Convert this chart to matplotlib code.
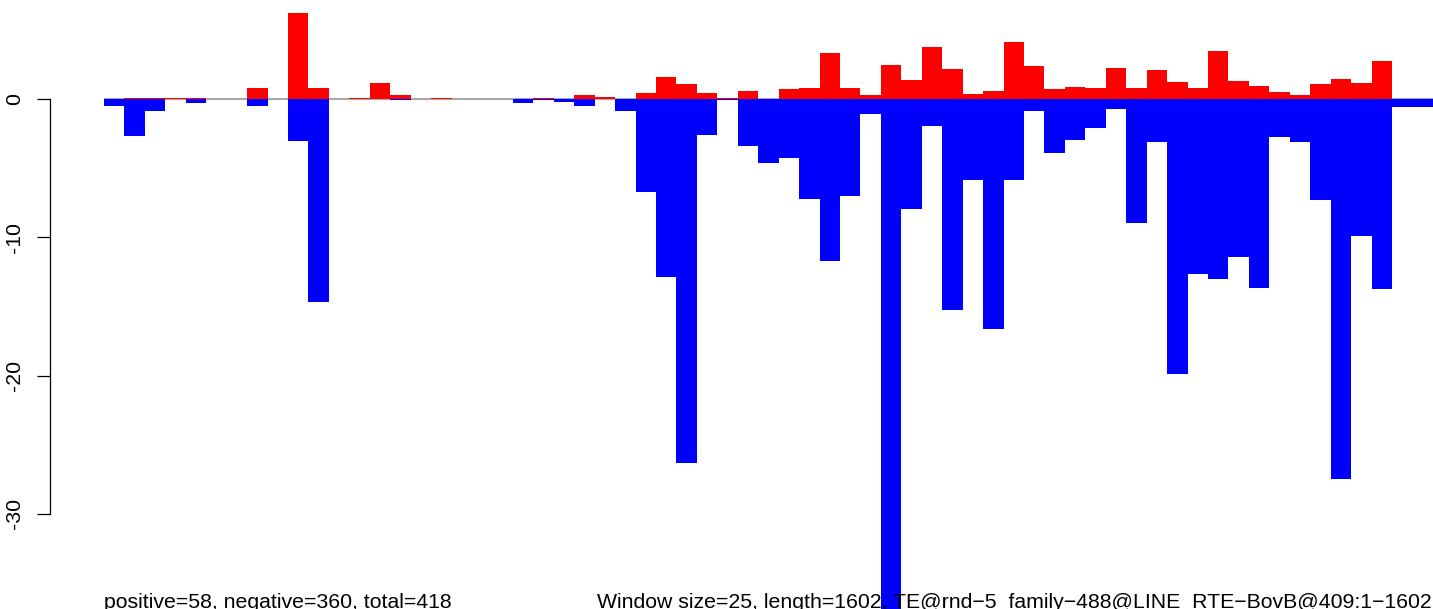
import numpy as np
import matplotlib.pyplot as plt

plt.rcParams['font.family'] = ['Liberation Sans', 'DejaVu Sans']

# one value per 25-nt window (65 windows over 1602 nt)
positive = [0, 0.07, 0.07, 0.07, 0.07, 0, 0, 0.80, 0, 6.22,
            0.80, 0, 0.07, 1.16, 0.29, 0, 0.07, 0, 0, 0,
            0, 0.07, 0, 0.29, 0.14, 0, 0.43, 1.59, 1.08, 0.43,
            0.07, 0.58, 0, 0.72, 0.80, 3.33, 0.80, 0.29, 2.46, 1.37,
            3.76, 2.17, 0.36, 0.58, 4.12, 2.39, 0.72, 0.87, 0.80, 2.24,
            0.80, 2.10, 1.23, 0.80, 3.47, 1.30, 0.94, 0.51, 0.29, 1.08,
            1.45, 1.16, 2.75, 0, 0]
negative = [-0.51, -2.67, -0.87, 0, -0.29, 0, 0, -0.51, 0, -3.04,
            -14.65, 0, 0, 0, -0.05, 0, 0, 0, 0, 0,
            -0.29, -0.05, -0.22, -0.51, 0, -0.87, -6.72, -12.87, -26.29, -2.60,
            -0.05, -3.40, -4.63, -4.27, -7.23, -11.71, -7.01, -1.08, -38.0, -7.95,
            -1.95, -15.25, -5.86, -16.63, -5.86, -0.87, -3.90, -2.96, -2.10, -0.72,
            -8.96, -3.11, -19.86, -12.65, -13.01, -11.42, -13.66, -2.75, -3.11, -7.30,
            -27.47, -9.90, -13.74, -0.58, -0.58]
yticks = [0, -10, -20, -30]
left_note = "positive=58, negative=360, total=418"
right_note = "Window size=25, length=1602, TE@rnd\u22125_family\u2212488@LINE_RTE\u2212BovB@409:1\u22121602"

W, H = 1433, 609
fig = plt.figure(figsize=(W / 100, H / 100), dpi=100)
ax = fig.add_axes([0, 0, 1, 1])

n = len(positive)
x = np.arange(n)
bw = 20.444  # pixels per window
ax.set_xlim(-104 / bw, (W - 104) / bw)
ax.set_ylim(-(H - 99) / 13.833, 99 / 13.833)

ax.hlines(0, 0, n, color='#A9A9A9', linewidth=1.5, zorder=1)
ax.bar(x, positive, width=1.0, align='edge', color='red',
       linewidth=0, zorder=2)
ax.bar(x, negative, width=1.0, align='edge', color='blue',
       linewidth=0, zorder=3)

for s in ['top', 'right', 'bottom']:
    ax.spines[s].set_visible(False)
ax.spines['left'].set_position(('axes', 50 / W))
ax.spines['left'].set_bounds(-30, 0)
ax.spines['left'].set_linewidth(0.9)
ax.set_xticks([])
ax.set_yticks(yticks)
ax.set_yticklabels([str(t) for t in yticks])
ax.tick_params(axis='y', length=9.4, width=0.9, pad=9, labelsize=15.3)
for lab in ax.get_yticklabels():
    lab.set_rotation(90)
    lab.set_va('center')

fig.text(104 / W, 1 / H, left_note, fontsize=15.3, ha='left', va='baseline')
fig.text(1432 / W, 1 / H, right_note, fontsize=15.3, ha='right', va='baseline')

fig.savefig('out.png', dpi=100)
